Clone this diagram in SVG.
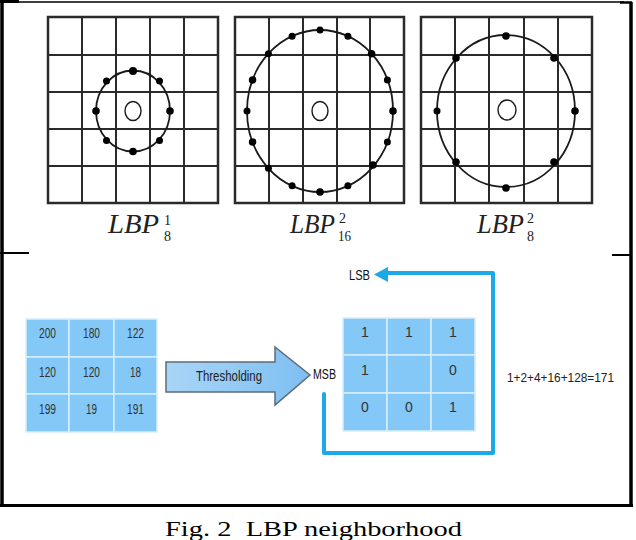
<svg xmlns="http://www.w3.org/2000/svg" width="636" height="540" viewBox="0 0 636 540">
<defs>
<style>
.frame{stroke:#000;fill:none}
.grid line{stroke:#2a2a2a;stroke-width:2}
.gb{fill:none;stroke:#2a2a2a;stroke-width:2.5}
.ring{fill:none;stroke:#1a1a1a;stroke-width:1.8}
.ctr{fill:none;stroke:#1a1a1a;stroke-width:1.4}
.dot{fill:#000}
.serif{font-family:"Liberation Serif","Tinos","Times New Roman",Times,serif}
.sans{font-family:"Liberation Sans","Arimo",Arial,Helvetica,sans-serif}
.lbl{font-style:italic;font-size:27px;fill:#222}
.idx{font-size:14px;fill:#222}
.cell{fill:#84c8f7;stroke:#d6eefc;stroke-width:1.5}
.num{font-size:14px;fill:#333;text-anchor:middle}
.sm{font-size:14px;fill:#111}
.conn{fill:none;stroke:#1ca9e8;stroke-width:4;stroke-linejoin:round;stroke-linecap:round}
</style>
<linearGradient id="ag" x1="0" y1="0" x2="1" y2="0">
<stop offset="0" stop-color="#a9d5f6"/>
<stop offset="1" stop-color="#7dbff2"/>
</linearGradient>
</defs>
<rect width="636" height="540" fill="#fff"/>

<g id="frame" class="frame">
<line x1="0" y1="2" x2="624" y2="2" stroke-width="1.5"/>
<line x1="0" y1="1.5" x2="19" y2="1.5" stroke-width="3"/>
<line x1="2" y1="0" x2="2" y2="507" stroke-width="3.5"/>
<line x1="631" y1="2" x2="631" y2="507" stroke-width="3.5"/>
<line x1="620" y1="2.5" x2="632" y2="2.5" stroke-width="2.5"/>
<line x1="0" y1="505.5" x2="633" y2="505.5" stroke-width="3"/>
<line x1="0" y1="253" x2="29" y2="253" stroke-width="2"/>
<line x1="612" y1="255" x2="631" y2="255" stroke-width="2"/>
</g>

<g id="grid1">
<g class="grid">
<line x1="82" y1="17" x2="82" y2="203"/><line x1="116" y1="17" x2="116" y2="203"/><line x1="150" y1="17" x2="150" y2="203"/><line x1="184" y1="17" x2="184" y2="203"/>
<line x1="48" y1="55" x2="218" y2="55"/><line x1="48" y1="92" x2="218" y2="92"/><line x1="48" y1="129" x2="218" y2="129"/><line x1="48" y1="166" x2="218" y2="166"/>
</g>
<rect class="gb" x="48" y="17" width="170" height="186"/>
<ellipse class="ring" cx="133" cy="111" rx="37" ry="40.5"/>
<ellipse class="ctr" cx="133" cy="111" rx="8" ry="9.5"/>
<g class="dot">
<circle cx="133" cy="71" r="4"/><circle cx="133" cy="151.5" r="3.8"/><circle cx="96" cy="111" r="3.8"/><circle cx="170" cy="111" r="3.8"/>
<circle cx="106.5" cy="81" r="3.5"/><circle cx="159.5" cy="81" r="3.5"/><circle cx="106.5" cy="140.5" r="3.5"/><circle cx="159.5" cy="140.5" r="3.5"/>
</g>
<text class="serif lbl" x="108" y="233" textLength="51" lengthAdjust="spacingAndGlyphs">LBP</text>
<text class="serif idx" x="164" y="225">1</text>
<text class="serif idx" x="164" y="241">8</text>
</g>

<g id="grid2">
<g class="grid">
<line x1="269" y1="17" x2="269" y2="203"/><line x1="303" y1="17" x2="303" y2="203"/><line x1="337" y1="17" x2="337" y2="203"/><line x1="370" y1="17" x2="370" y2="203"/>
<line x1="235" y1="55" x2="404" y2="55"/><line x1="235" y1="92" x2="404" y2="92"/><line x1="235" y1="129" x2="404" y2="129"/><line x1="235" y1="166" x2="404" y2="166"/>
</g>
<rect class="gb" x="235" y="17" width="169" height="186"/>
<ellipse class="ring" cx="320" cy="111" rx="73" ry="81"/>
<ellipse class="ctr" cx="320" cy="111" rx="8" ry="9.5"/>
<g class="dot">
<circle cx="393" cy="111" r="3.8"/><circle cx="387.4" cy="80" r="3.5"/><circle cx="371.6" cy="53.7" r="3.8"/><circle cx="347.9" cy="36.2" r="3.5"/>
<circle cx="320" cy="30" r="3.5"/><circle cx="292.1" cy="36.2" r="3.5"/><circle cx="268.4" cy="53.7" r="3.5"/><circle cx="252.6" cy="80" r="3.8"/>
<circle cx="247" cy="111" r="3.5"/><circle cx="252.6" cy="142" r="3.8"/><circle cx="268.4" cy="168.3" r="3.5"/><circle cx="292.1" cy="185.8" r="3.5"/>
<circle cx="320" cy="192" r="3.8"/><circle cx="347.9" cy="185.8" r="3.5"/><circle cx="373" cy="165" r="3.8"/><circle cx="387.4" cy="142" r="3.5"/>
</g>
<text class="serif lbl" x="290" y="233" textLength="45" lengthAdjust="spacingAndGlyphs">LBP</text>
<text class="serif idx" x="339" y="223">2</text>
<text class="serif idx" x="338" y="241" font-size="12" textLength="13" lengthAdjust="spacingAndGlyphs">16</text>
</g>

<g id="grid3">
<g class="grid">
<line x1="455" y1="17" x2="455" y2="203"/><line x1="489" y1="17" x2="489" y2="203"/><line x1="524" y1="17" x2="524" y2="203"/><line x1="558" y1="17" x2="558" y2="203"/>
<line x1="421" y1="55" x2="592" y2="55"/><line x1="421" y1="92" x2="592" y2="92"/><line x1="421" y1="129" x2="592" y2="129"/><line x1="421" y1="166" x2="592" y2="166"/>
</g>
<rect class="gb" x="421" y="17" width="171" height="186"/>
<ellipse class="ring" cx="506" cy="111" rx="69" ry="76"/>
<ellipse class="ctr" cx="507" cy="110" rx="9" ry="10"/>
<g class="dot">
<circle cx="506" cy="36" r="3.8"/><circle cx="506" cy="188" r="3.8"/><circle cx="437" cy="111" r="3.5"/><circle cx="575" cy="111" r="3.8"/>
<circle cx="456" cy="58" r="3.8"/><circle cx="554" cy="58" r="3.8"/><circle cx="456" cy="162" r="3.8"/><circle cx="554" cy="162" r="3.8"/>
</g>
<text class="serif lbl" x="477" y="233" textLength="47" lengthAdjust="spacingAndGlyphs">LBP</text>
<text class="serif idx" x="527" y="223">2</text>
<text class="serif idx" x="527" y="241">8</text>
</g>

<g id="input-table">
<rect class="cell" x="26" y="319" width="43" height="38"/><rect class="cell" x="69" y="319" width="45" height="38"/><rect class="cell" x="114" y="319" width="43" height="38"/>
<rect class="cell" x="26" y="357" width="43" height="37"/><rect class="cell" x="69" y="357" width="45" height="37"/><rect class="cell" x="114" y="357" width="43" height="37"/>
<rect class="cell" x="26" y="394" width="43" height="38"/><rect class="cell" x="69" y="394" width="45" height="38"/><rect class="cell" x="114" y="394" width="43" height="38"/>
<g class="sans num">
<text x="47.5" y="338" textLength="17" lengthAdjust="spacingAndGlyphs">200</text>
<text x="91.5" y="338" textLength="17" lengthAdjust="spacingAndGlyphs">180</text>
<text x="135.5" y="338" textLength="17" lengthAdjust="spacingAndGlyphs">122</text>
<text x="47.5" y="377" textLength="17" lengthAdjust="spacingAndGlyphs">120</text>
<text x="91.5" y="377" textLength="17" lengthAdjust="spacingAndGlyphs">120</text>
<text x="135.5" y="377" textLength="11" lengthAdjust="spacingAndGlyphs">18</text>
<text x="47.5" y="414" textLength="17" lengthAdjust="spacingAndGlyphs">199</text>
<text x="91.5" y="414" textLength="11" lengthAdjust="spacingAndGlyphs">19</text>
<text x="135.5" y="414" textLength="17" lengthAdjust="spacingAndGlyphs">191</text>
</g>
</g>

<g id="thresholding-arrow">
<path d="M166 362 H275 V347 L310 375 L275 405 V392 H166 Z" fill="url(#ag)" stroke="#5f6a78" stroke-width="1.5" stroke-linejoin="miter"/>
<text class="sans" x="196" y="381" font-size="15" fill="#222" textLength="66" lengthAdjust="spacingAndGlyphs">Thresholding</text>
</g>

<g id="binary-table">
<rect class="cell" x="343" y="318" width="44" height="37"/><rect class="cell" x="387" y="318" width="44" height="37"/><rect class="cell" x="431" y="318" width="44" height="37"/>
<rect class="cell" x="343" y="355" width="44" height="38"/><rect class="cell" x="387" y="355" width="44" height="38"/><rect class="cell" x="431" y="355" width="44" height="38"/>
<rect class="cell" x="343" y="393" width="44" height="38"/><rect class="cell" x="387" y="393" width="44" height="38"/><rect class="cell" x="431" y="393" width="44" height="38"/>
<g class="sans num">
<text x="365" y="337">1</text><text x="409" y="337">1</text><text x="453" y="337">1</text>
<text x="365" y="375">1</text><text x="453" y="375">0</text>
<text x="365" y="412">0</text><text x="409" y="412">0</text><text x="453" y="412">1</text>
</g>
</g>

<g id="labels">
<text class="sans sm" x="313" y="379" textLength="23" lengthAdjust="spacingAndGlyphs">MSB</text>
<text class="sans sm" x="349" y="280" textLength="21" lengthAdjust="spacingAndGlyphs">LSB</text>
<text class="sans" x="507" y="382" font-size="13" fill="#222" textLength="107" lengthAdjust="spacingAndGlyphs">1+2+4+16+128=171</text>
</g>

<g id="connectors">
<path class="conn" d="M324 394 V453 H493 V273 H386"/>
<path d="M374 274.5 L388 267 L388 282 Z" fill="#1ca9e8"/>
</g>

<text id="caption" class="serif" x="165" y="536" font-size="21" fill="#000" textLength="297" lengthAdjust="spacingAndGlyphs">Fig. 2&#160; LBP neighborhood</text>
</svg>
